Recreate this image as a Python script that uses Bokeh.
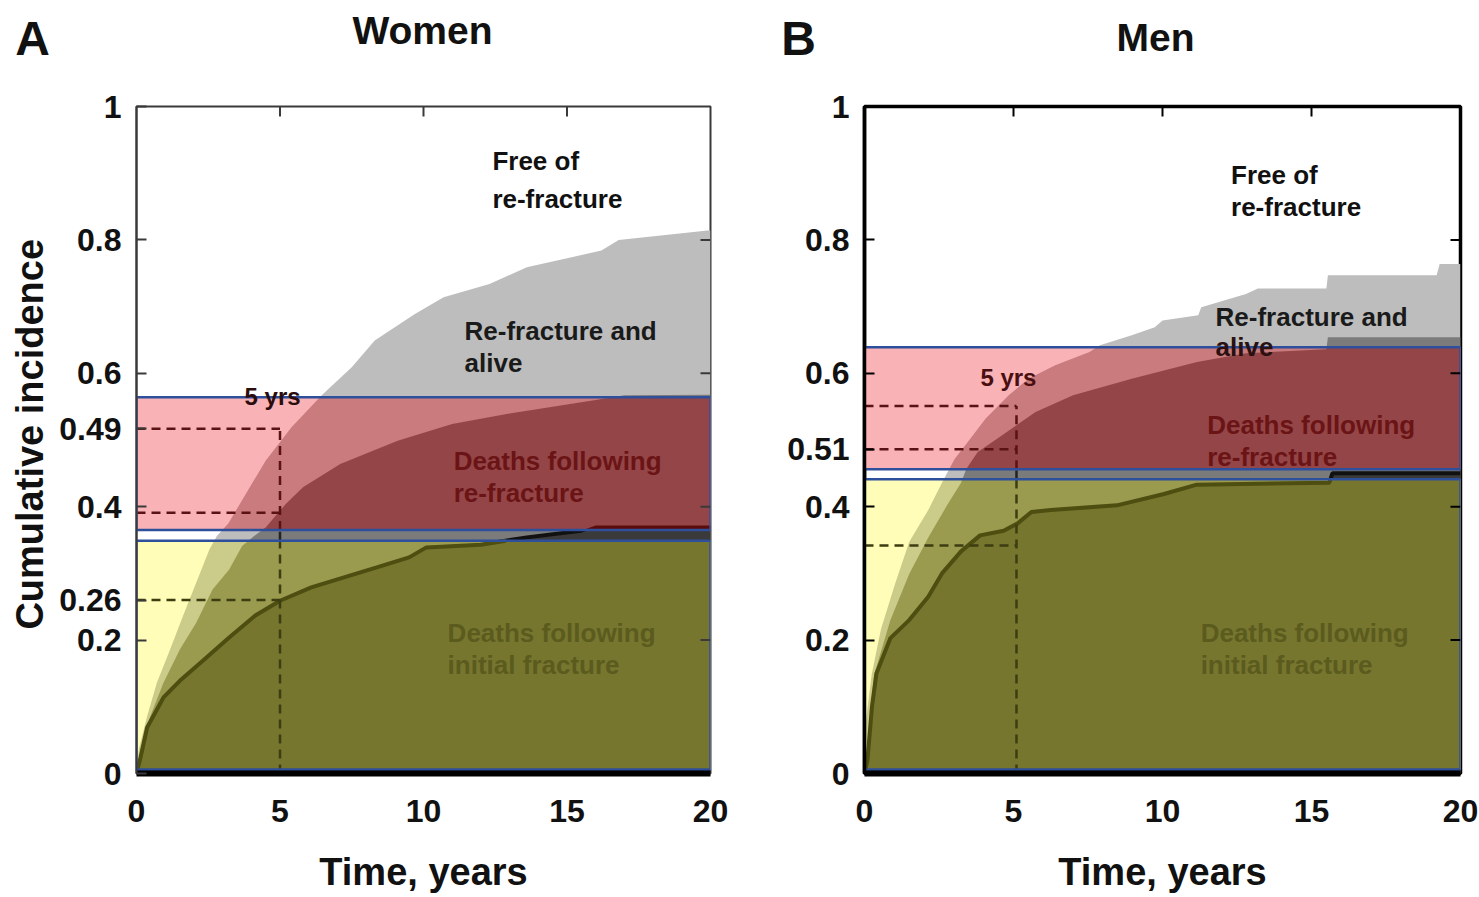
import numpy as np
from bokeh.plotting import figure
from bokeh.models import Range1d, FixedTicker, Label
from bokeh.layouts import row, column
from bokeh.core.properties import value
from bokeh.embed import file_html
from bokeh.resources import INLINE

# ---------------- data ----------------
TIME_TICKS = [0, 5, 10, 15, 20]
TOP_TICKS = [5, 10, 15]
RIGHT_TICKS = [0.2, 0.4, 0.6, 0.8]

# Women: deaths following initial fracture (bottom curve)
W_INIT_T = [0, 0.14, 0.37, 0.94, 1.51, 2.31, 3.23, 4.14, 5.0, 6.09, 7.23, 8.37, 9.5, 10.1, 12.0, 13.6, 15.5, 16.0, 20]
W_INIT = [0, 0.024, 0.069, 0.114, 0.139, 0.169, 0.204, 0.237, 0.259, 0.279, 0.294, 0.309, 0.324, 0.339, 0.343, 0.354, 0.364, 0.372, 0.372]
# Women: + deaths following re-fracture (middle curve)
W_DEAD_T = [0, 0.14, 0.48, 0.94, 1.51, 2.08, 2.65, 3.23, 3.68, 4.1, 4.5, 5.2, 5.8, 7.1, 9.1, 11.0, 12.9, 16.0, 17.0, 20]
W_DEAD = [0, 0.036, 0.086, 0.136, 0.186, 0.226, 0.276, 0.306, 0.341, 0.356, 0.369, 0.404, 0.429, 0.464, 0.499, 0.524, 0.539, 0.560, 0.567, 0.568]
# Women: + re-fracture and alive (top curve)
W_ANY_T = [0, 0.08, 0.37, 0.71, 1.17, 1.62, 2.08, 2.54, 2.8, 3.2, 3.6, 4.5, 5.4, 6.5, 7.5, 8.3, 9.7, 10.7, 12.3, 13.6, 16.2, 16.8, 19.9, 20]
W_ANY = [0, 0.036, 0.086, 0.136, 0.186, 0.236, 0.286, 0.336, 0.356, 0.375, 0.404, 0.469, 0.519, 0.569, 0.609, 0.649, 0.689, 0.714, 0.734, 0.759, 0.784, 0.800, 0.814, 0.814]

# Men
M_INIT_T = [0, 0.1, 0.25, 0.4, 0.87, 1.5, 2.14, 2.6, 3.24, 3.88, 4.67, 5.14, 5.6, 6.25, 8.47, 10.05, 11.15, 15.6, 15.7, 20]
M_INIT = [0, 0.02, 0.10, 0.15, 0.203, 0.23, 0.265, 0.30, 0.333, 0.357, 0.364, 0.375, 0.392, 0.395, 0.402, 0.419, 0.433, 0.436, 0.45, 0.45]
M_DEAD_T = [0, 0.32, 0.87, 1.5, 2.14, 2.77, 3.24, 3.42, 3.8, 4.45, 5.1, 5.74, 7.0, 8.97, 11.16, 12.8, 15.5, 15.55, 20]
M_DEAD = [0, 0.148, 0.23, 0.299, 0.354, 0.402, 0.436, 0.457, 0.482, 0.502, 0.522, 0.542, 0.567, 0.592, 0.617, 0.630, 0.636, 0.654, 0.654]
M_ANY_T = [0, 0.05, 0.24, 0.55, 1.03, 1.5, 2.14, 2.6, 2.84, 3.03, 3.55, 4.06, 4.84, 5.5, 6.4, 7.55, 7.9, 8.97, 9.74, 10.0, 11.2, 11.3, 12.8, 13.2, 15.5, 15.55, 19.2, 19.3, 20]
M_ANY = [0, 0.079, 0.148, 0.216, 0.285, 0.347, 0.395, 0.436, 0.456, 0.472, 0.502, 0.532, 0.567, 0.592, 0.612, 0.632, 0.642, 0.657, 0.669, 0.679, 0.687, 0.699, 0.719, 0.727, 0.727, 0.747, 0.747, 0.764, 0.764]

# highlighted bands (bottom, top)
W_RED_BAND = (0.365, 0.564)
W_YEL_BAND = (0.006, 0.349)
M_RED_BAND = (0.456, 0.639)
M_YEL_BAND = (0.006, 0.441)

# 5-year reference marks
W_5YR = 5.0
W_5YR_LEVELS = [0.517, 0.391, 0.26]
M_5YR = 5.1
M_5YR_LEVELS = [0.551, 0.486, 0.342]

W_YTICKS = [0, 0.2, 0.26, 0.4, 0.517, 0.6, 0.8, 1]
W_YLABELS = ["0", "0.2", "0.26", "0.4", "0.49", "0.6", "0.8", "1"]
M_YTICKS = [0, 0.2, 0.4, 0.486, 0.6, 0.8, 1]
M_YLABELS = ["0", "0.2", "0.4", "0.51", "0.6", "0.8", "1"]

# ---------------- styles ----------------
FONT = "Liberation Sans"
GRAY_LIGHT = "#bdbdbd"
GRAY_MID = "#7b7b7b"
GRAY_DARK = "#3a3a3a"
RED_COLS = ["#f9b3b6", "#c97b7d", "#944547", "#5a0c0c"]
YEL_COLS = ["#fffdb7", "#cbcb8a", "#9b9b50", "#76762f"]
BLUE = "#2e4f9c"
FRAME_H = 667
TOP_B = 18
BOT_B = 118
HEADER_H = 88
GUTTER_W = 56


def with_crossings(xs, ys, levels):
    ox, oy = [xs[0]], [ys[0]]
    for i in range(1, len(xs)):
        x0, y0, x1, y1 = xs[i - 1], ys[i - 1], xs[i], ys[i]
        cs = []
        for b in levels:
            if (y0 - b) * (y1 - b) < 0:
                t = (b - y0) / (y1 - y0)
                cs.append((t, x0 + t * (x1 - x0), b))
        for _, cx, cy in sorted(cs):
            ox.append(cx)
            oy.append(cy)
        ox.append(x1)
        oy.append(y1)
    return np.array(ox, dtype=float), np.array(oy, dtype=float)


def fill_below(p, xs, ys, lo, hi, color):
    cx, cy = with_crossings(xs, ys, [lo, hi])
    cy = np.clip(cy, lo, hi)
    px = np.concatenate([[cx[0]], cx, [cx[-1]]])
    py = np.concatenate([[lo], cy, [lo]])
    p.patch(px, py, fill_color=color, line_color=None)


def style_axis(ax, size="32px"):
    ax.major_label_text_font = FONT
    ax.major_label_text_font_style = "bold"
    ax.major_label_text_font_size = size
    ax.major_label_text_color = "#111111"
    ax.major_tick_in = 10
    ax.major_tick_out = 0
    ax.major_tick_line_width = 2
    ax.minor_tick_line_color = None


def add_text(p, x, y, text, color="#111111", size="26px", align="left"):
    p.add_layout(Label(x=x, y=y, text=text, text_font=FONT, text_font_style="bold",
                       text_font_size=size, text_color=color, text_align=align,
                       text_baseline="middle"))


def plain_canvas(w, h):
    c = figure(width=w, height=h, x_range=Range1d(0, w), y_range=Range1d(h, 0),
               output_backend="svg", toolbar_location=None, min_border=0,
               x_axis_location=None, y_axis_location=None)
    c.outline_line_color = None
    c.grid.visible = False
    c.background_fill_color = "white"
    c.border_fill_color = "white"
    return c


def make_panel(curves, red_band, yel_band, t5, levels, yticks, ylabels,
               frame_w, border_l, border_r, frame_color, frame_width, texts):
    (it, iv), (dt, dv), (at, av) = curves
    p = figure(frame_width=frame_w, frame_height=FRAME_H, x_range=Range1d(0, 20), y_range=Range1d(0, 1),
               output_backend="svg", toolbar_location=None,
               min_border_left=border_l, min_border_right=border_r,
               min_border_top=TOP_B, min_border_bottom=BOT_B)
    p.grid.grid_line_color = None
    p.outline_line_color = frame_color
    p.outline_line_width = frame_width
    p.background_fill_color = "white"
    p.border_fill_color = "white"

    # base stacked areas
    fill_below(p, at, av, 0, 1, GRAY_LIGHT)
    fill_below(p, dt, dv, 0, 1, GRAY_MID)
    fill_below(p, it, iv, 0, 1, GRAY_DARK)
    p.line(it, iv, line_color="#111111", line_width=4)

    # highlighted bands
    for (lo, hi), cols in ((red_band, RED_COLS), (yel_band, YEL_COLS)):
        p.quad(left=0, right=20, bottom=lo, top=hi, fill_color=cols[0], line_color=None)
        fill_below(p, at, av, lo, hi, cols[1])
        fill_below(p, dt, dv, lo, hi, cols[2])
        fill_below(p, it, iv, lo, hi, cols[3])

    # olive line inside the yellow band
    ylo, yhi = yel_band
    cx, cy = with_crossings(it, iv, [yhi])
    cy = np.where(cy > yhi + 1e-9, np.nan, cy)
    p.line(cx, cy, line_color="#4d4e10", line_width=4)

    # dashed 5-year marks
    dash = "9 6"
    rlo, rhi = red_band
    for lev in levels:
        col = "#5a1214" if lev > rlo else "#3d3d12"
        p.segment(x0=0, y0=lev, x1=t5, y1=lev, line_color=col, line_width=2.5, line_dash=dash)
    top = max(levels)
    p.segment(x0=t5, y0=0, x1=t5, y1=yhi, line_color="#3d3d12", line_width=2.5, line_dash=dash)
    p.segment(x0=t5, y0=yhi, x1=t5, y1=rlo, line_color="#222222", line_width=2.5, line_dash=dash)
    p.segment(x0=t5, y0=rlo, x1=t5, y1=top, line_color="#5a1214", line_width=2.5, line_dash=dash)

    # band outlines
    for lo, hi in (red_band, yel_band):
        p.quad(left=0, right=20, bottom=lo, top=hi, fill_color=None, line_color=BLUE, line_width=2.5)

    # mirrored inward ticks on top and right edges
    dx = 20 * 10 / frame_w
    dy = 10 / FRAME_H
    p.segment(x0=TOP_TICKS, y0=[1] * len(TOP_TICKS), x1=TOP_TICKS, y1=[1 - dy] * len(TOP_TICKS),
              line_color=frame_color, line_width=2)
    p.segment(x0=[20] * len(RIGHT_TICKS), y0=RIGHT_TICKS, x1=[20 - dx] * len(RIGHT_TICKS), y1=RIGHT_TICKS,
              line_color=frame_color, line_width=2)

    # axes
    p.xaxis.ticker = FixedTicker(ticks=TIME_TICKS)
    p.xaxis.major_label_overrides = {t: str(t) for t in TIME_TICKS}
    style_axis(p.xaxis[0])
    p.xaxis.major_tick_line_color = None
    p.xaxis.axis_line_color = "black"
    p.xaxis.axis_line_width = 6
    p.xaxis.major_label_standoff = 26
    p.xaxis.axis_label = "Time, years"
    p.xaxis.axis_label_text_font = FONT
    p.xaxis.axis_label_text_font_style = "bold"
    p.xaxis.axis_label_text_font_size = "38px"
    p.xaxis.axis_label_standoff = 26
    p.xaxis.axis_label_text_color = "#111111"

    p.yaxis.ticker = FixedTicker(ticks=yticks)
    p.yaxis.major_label_overrides = {t: l for t, l in zip(yticks, ylabels)}
    style_axis(p.yaxis[0])
    p.yaxis.major_tick_line_color = frame_color
    p.yaxis.axis_line_color = frame_color
    p.yaxis.axis_line_width = frame_width
    p.yaxis.major_label_standoff = 15

    for (x, y, t, c, s, a) in texts:
        add_text(p, x, y, t, color=c, size=s, align=a)
    return p


INK = "#111111"
DRED = "#6a1416"
DOLIVE = "#5b5b1e"

w_texts = [
    (12.4, 0.918, "Free of", INK, "26px", "left"),
    (12.4, 0.862, "re-fracture", INK, "26px", "left"),
    (11.43, 0.663, "Re-fracture and", "#1a1a1a", "26px", "left"),
    (11.43, 0.615, "alive", "#1a1a1a", "26px", "left"),
    (11.05, 0.468, "Deaths following", DRED, "26px", "left"),
    (11.05, 0.420, "re-fracture", DRED, "26px", "left"),
    (10.84, 0.210, "Deaths following", DOLIVE, "26px", "left"),
    (10.84, 0.162, "initial fracture", DOLIVE, "26px", "left"),
    (4.74, 0.565, "5 yrs", "#2a0c0c", "24px", "center"),
]
m_texts = [
    (12.3, 0.898, "Free of", INK, "26px", "left"),
    (12.3, 0.850, "re-fracture", INK, "26px", "left"),
    (11.78, 0.685, "Re-fracture and", "#1a1a1a", "26px", "left"),
    (11.78, 0.639, "alive", "#2a1010", "26px", "left"),
    (11.5, 0.523, "Deaths following", DRED, "26px", "left"),
    (11.5, 0.475, "re-fracture", DRED, "26px", "left"),
    (11.28, 0.210, "Deaths following", DOLIVE, "26px", "left"),
    (11.28, 0.163, "initial fracture", DOLIVE, "26px", "left"),
    (4.83, 0.594, "5 yrs", "#4a0e10", "24px", "center"),
]

p1 = make_panel(((W_INIT_T, W_INIT), (W_DEAD_T, W_DEAD), (W_ANY_T, W_ANY)),
                W_RED_BAND, W_YEL_BAND, W_5YR, W_5YR_LEVELS, W_YTICKS, W_YLABELS,
                574, 136 - GUTTER_W, 38, "#3a3a3a", 2, w_texts)
p2 = make_panel(((M_INIT_T, M_INIT), (M_DEAD_T, M_DEAD), (M_ANY_T, M_ANY)),
                M_RED_BAND, M_YEL_BAND, M_5YR, M_5YR_LEVELS, M_YTICKS, M_YLABELS,
                596, 116, 19, "#000000", 3.5, m_texts)

# header with panel letters and titles
header = plain_canvas(1479, HEADER_H)
header.text(x=[32, 798], y=[38, 38], text=["A", "B"], text_font=value(FONT),
            text_font_style="bold", text_font_size=value("48px"), text_color="#111111",
            text_align="center", text_baseline="middle")
header.text(x=[422, 1155], y=[30, 37], text=["Women", "Men"], text_font=value(FONT),
            text_font_style="bold", text_font_size=value("39px"), text_color="#111111",
            text_align="center", text_baseline="middle")

# left gutter with the shared y-axis title
gutter_h = TOP_B + FRAME_H + BOT_B
gutter = plain_canvas(GUTTER_W, gutter_h)
gutter.text(x=[29], y=[485 - HEADER_H], text=["Cumulative incidence"], angle=np.pi / 2,
            text_font=value(FONT), text_font_style="bold", text_font_size=value("38px"),
            text_color="#111111", text_align="center", text_baseline="middle")

layout = column(header, row(gutter, p1, p2))
open("out.html", "w").write(file_html(layout, INLINE))
